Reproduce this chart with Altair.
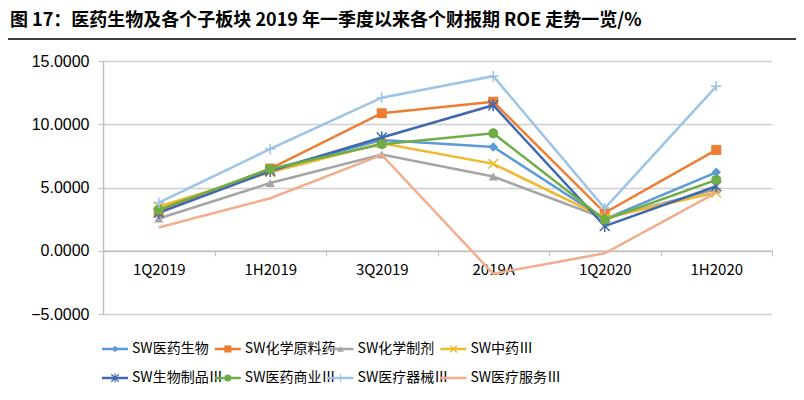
import altair as alt
import pandas as pd

periods = ["1Q2019", "1H2019", "3Q2019", "2019A", "1Q2020", "1H2020"]
names = ["SW医药生物", "SW化学原料药", "SW化学制剂", "SW中药Ⅲ",
         "SW生物制品Ⅲ", "SW医药商业Ⅲ", "SW医疗器械Ⅲ", "SW医疗服务Ⅲ"]
v_yiyao = [3.2, 6.4, 8.75, 8.2, 2.5, 6.2]
v_yuanliao = [3.05, 6.5, 10.87, 11.78, 3.0, 7.97]
v_zhiji = [2.55, 5.35, 7.6, 5.87, 2.55, 4.85]
v_zhongyao = [3.5, 6.2, 8.5, 6.87, 2.6, 4.6]
v_shengwu = [3.0, 6.3, 8.95, 11.5, 1.95, 5.1]
v_shangye = [3.25, 6.47, 8.42, 9.28, 2.45, 5.6]
v_qixie = [3.8, 8.05, 12.1, 13.8, 3.35, 13.0]
v_fuwu = [1.84, 4.15, 7.58, -1.82, -0.2, 4.6]
values = [v_yiyao, v_yuanliao, v_zhiji, v_zhongyao, v_shengwu, v_shangye, v_qixie, v_fuwu]

colors = ["#5B9BD5", "#ED7D31", "#A5A5A5", "#F0B82E", "#4068B0", "#70AD47", "#9DC3E6", "#F2AD8C"]
XPATH = "M-1,-1L1,1M-1,1L1,-1"
PLUS = "M-1,0L1,0M0,-1L0,1"
STAR = "M-1,-1L1,1M-1,1L1,-1M0,-1.2L0,1.2"
markers = [("diamond", True, 90), ("square", True, 100), ("triangle-up", True, 85),
           (XPATH, False, 90), (STAR, False, 100), ("circle", True, 100),
           (PLUS, False, 110), None]

title_text = "图 17：医药生物及各个子板块 2019 年一季度以来各个财报期 ROE 走势一览/%"

rows = []
for n, vals in zip(names, values):
    for p, v in zip(periods, vals):
        rows.append({"period": p, "name": n, "value": v})
df = pd.DataFrame(rows)

W, H = 669, 253
FONT = "Noto Sans CJK SC"

x_enc = alt.X("period:N", sort=periods, bandPosition=0.5,
              scale=alt.Scale(type="band", domain=periods, paddingInner=0, paddingOuter=0),
              axis=alt.Axis(title=None, orient="bottom", offset=-63.25, tickBand="extent",
                            domainColor="#BFBFBF", domainWidth=1.5, tickColor="#BFBFBF",
                            tickSize=5, labelPadding=7, labelFont=FONT, labelFontSize=15,
                            labelColor="#000000", labelAngle=0, grid=False))
y_enc = alt.Y("value:Q", scale=alt.Scale(domain=[-5, 15], nice=False, zero=False),
              axis=alt.Axis(title=None, values=[-5, 0, 5, 10, 15], format=".4f",
                            domainColor="#BFBFBF", domainWidth=1.5, tickColor="#BFBFBF",
                            tickSize=5, labelPadding=9, labelFont="Liberation Sans",
                            labelFontSize=16, labelColor="#000000",
                            gridColor="#D0D0D0", gridWidth=1.5))

layers = []
for i, n in enumerate(names):
    base = alt.Chart(df).transform_filter(alt.datum.name == n)
    layers.append(base.mark_line(strokeWidth=2.5, color=colors[i]).encode(x=x_enc, y=y_enc))
    m = markers[i]
    if m is not None:
        shape, filled, size = m
        if filled:
            pm = base.mark_point(shape=shape, filled=True, size=size, color=colors[i], opacity=1)
        else:
            pm = base.mark_point(shape=shape, filled=False, size=size, color=colors[i],
                                 strokeWidth=1.5, opacity=1)
        layers.append(pm.encode(x=x_enc, y=y_enc))

# legend (manual, line + marker)
for i, n in enumerate(names):
    lx = -1 + (i % 4) * 112.8
    ly = 288 + (i // 4) * 29
    one = alt.Chart(pd.DataFrame({"name": [n]}))
    layers.append(one.mark_rule(strokeWidth=2.5, color=colors[i]).encode(
        x=alt.value(lx), x2=alt.value(lx + 26), y=alt.value(ly)))
    m = markers[i]
    if m is not None:
        shape, filled, size = m
        if filled:
            pm = one.mark_point(shape=shape, filled=True, size=size * 0.5, color=colors[i], opacity=1)
        else:
            pm = one.mark_point(shape=shape, filled=False, size=size * 0.55, color=colors[i],
                                strokeWidth=1.2, opacity=1)
        layers.append(pm.encode(x=alt.value(lx + 13), y=alt.value(ly)))
    layers.append(one.mark_text(align="left", baseline="middle", font=FONT, fontSize=14,
                                color="#000000").encode(
        x=alt.value(lx + 30), y=alt.value(ly), text="name:N"))

# rule under the title
tdf = alt.Chart(pd.DataFrame({"t": [title_text]}))
layers.append(tdf.mark_rule(strokeWidth=2, color="#404040").encode(
    x=alt.value(-95), x2=alt.value(-95 + 788), y=alt.value(-22)))

chart = alt.layer(*layers).properties(
    width=W, height=H,
    title=alt.TitleParams(title_text, anchor="start", frame="group", dx=-93, offset=8,
                          font=FONT, fontSize=18, fontWeight="bold", color="#000000"),
    autosize=alt.AutoSizeParams(type="none"),
    padding={"left": 95, "top": 53, "right": 24, "bottom": 78},
    background="white",
).configure_view(strokeWidth=0)

chart.save("out.html", embed_options={"renderer": "svg", "actions": False})
